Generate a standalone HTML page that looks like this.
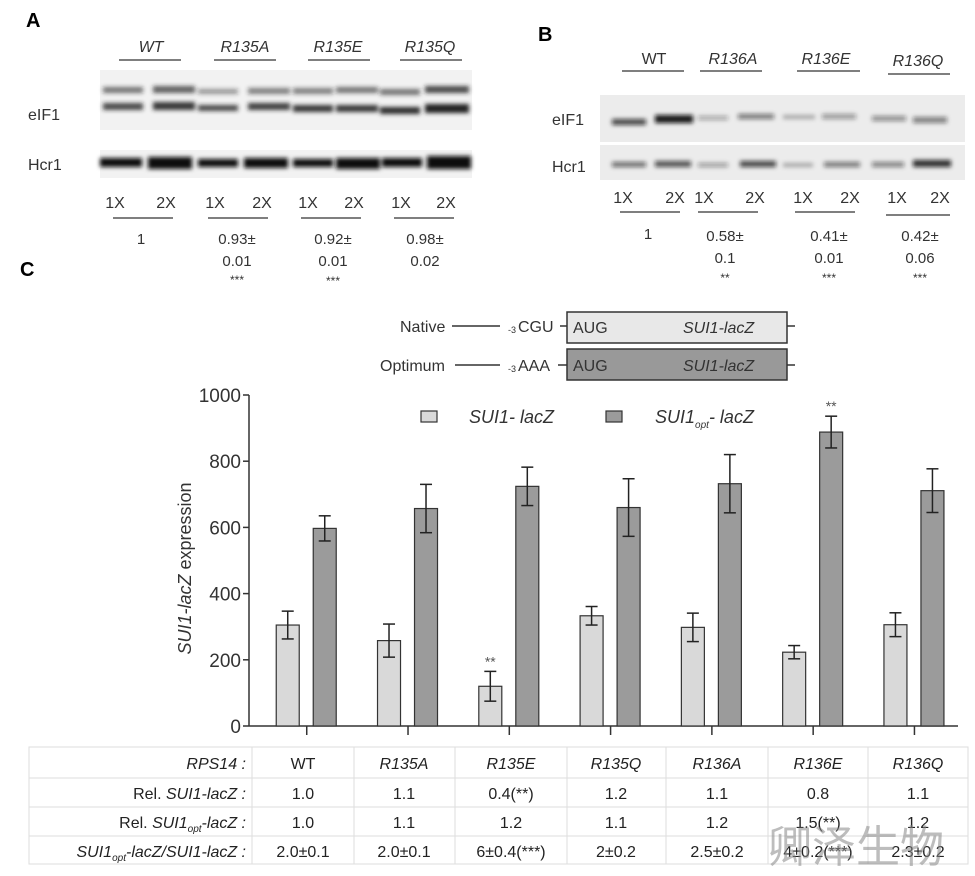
<!DOCTYPE html>
<html><head><meta charset="utf-8"><style>
body{margin:0;background:#fff}
svg{display:block;font-family:"Liberation Sans",Arial,sans-serif}
</style></head><body>
<svg id="fig" width="975" height="876" viewBox="0 0 975 876">
<defs><filter id="bl" x="-10%" y="-100%" width="120%" height="300%"><feGaussianBlur stdDeviation="2.2"/></filter></defs>
<g>
<text x="26" y="27" font-size="20" font-weight="bold">A</text>
<g font-size="16" font-style="italic" fill="#333" text-anchor="middle">
<text x="151" y="52">WT</text>
<text x="245" y="52">R135A</text>
<text x="338" y="52">R135E</text>
<text x="430" y="52">R135Q</text>
</g>
<g stroke="#555" stroke-width="1.5">
<line x1="119" y1="60" x2="181" y2="60"/><line x1="214" y1="60" x2="276" y2="60"/><line x1="308" y1="60" x2="370" y2="60"/><line x1="400" y1="60" x2="462" y2="60"/>
</g>
<rect x="100" y="70" width="372" height="60" fill="#f2f2f2"/>
<g filter="url(#bl)" fill="#222">
<rect x="103" y="87" width="40" height="6" opacity="0.6"/><rect x="153" y="86" width="42" height="7" opacity="0.7"/>
<rect x="198" y="89" width="40" height="5" opacity="0.45"/><rect x="248" y="88" width="42" height="6" opacity="0.55"/>
<rect x="293" y="88" width="40" height="6" opacity="0.55"/><rect x="336" y="87" width="42" height="6" opacity="0.6"/>
<rect x="380" y="89" width="40" height="6" opacity="0.6"/><rect x="425" y="86" width="44" height="7" opacity="0.8"/>
<rect x="103" y="103" width="40" height="7" opacity="0.8"/><rect x="153" y="102" width="42" height="8" opacity="0.9"/>
<rect x="198" y="105" width="40" height="6" opacity="0.8"/><rect x="248" y="103" width="42" height="7" opacity="0.85"/>
<rect x="293" y="105" width="40" height="7" opacity="0.9"/><rect x="336" y="105" width="42" height="7" opacity="0.9"/>
<rect x="380" y="107" width="40" height="7" opacity="0.95"/><rect x="425" y="104" width="44" height="9" opacity="1"/>
</g>
<rect x="100" y="150" width="372" height="28" fill="#f2f2f2"/>
<g filter="url(#bl)" fill="#111">
<rect x="100" y="158" width="42" height="9"/><rect x="148" y="157" width="44" height="12"/>
<rect x="198" y="159" width="40" height="8"/><rect x="244" y="158" width="44" height="10"/>
<rect x="293" y="159" width="40" height="8"/><rect x="336" y="158" width="44" height="11"/>
<rect x="382" y="158" width="40" height="9"/><rect x="427" y="156" width="44" height="13"/>
</g>
<g font-size="16" fill="#333">
<text x="28" y="120">eIF1</text>
<text x="28" y="170">Hcr1</text>
</g>
<g font-size="16" fill="#333" text-anchor="middle">
<text x="115" y="208">1X</text><text x="166" y="208">2X</text>
<text x="215" y="208">1X</text><text x="262" y="208">2X</text>
<text x="308" y="208">1X</text><text x="354" y="208">2X</text>
<text x="401" y="208">1X</text><text x="446" y="208">2X</text>
</g>
<g stroke="#555" stroke-width="1.5">
<line x1="113" y1="218" x2="173" y2="218"/><line x1="208" y1="218" x2="268" y2="218"/><line x1="301" y1="218" x2="361" y2="218"/><line x1="394" y1="218" x2="454" y2="218"/>
</g>
<g font-size="15" fill="#333" text-anchor="middle">
<text x="141" y="244">1</text>
<text x="237" y="244">0.93±</text><text x="237" y="266">0.01</text><text x="237" y="284" font-size="12">***</text>
<text x="333" y="244">0.92±</text><text x="333" y="266">0.01</text><text x="333" y="285" font-size="12">***</text>
<text x="425" y="244">0.98±</text><text x="425" y="266">0.02</text>
</g>
</g>
<g>
<text x="538" y="41" font-size="20" font-weight="bold">B</text>
<g font-size="16" fill="#333" text-anchor="middle">
<text x="654" y="64">WT</text>
<g font-style="italic">
<text x="733" y="64">R136A</text><text x="826" y="64">R136E</text><text x="918" y="66">R136Q</text></g>
</g>
<g stroke="#555" stroke-width="1.5">
<line x1="622" y1="71" x2="684" y2="71"/><line x1="700" y1="71" x2="762" y2="71"/><line x1="797" y1="71" x2="860" y2="71"/><line x1="888" y1="74" x2="950" y2="74"/>
</g>
<rect x="600" y="95" width="365" height="47" fill="#ececec"/>
<rect x="600" y="145" width="365" height="35" fill="#ececec"/>
<g filter="url(#bl)" fill="#111">
<rect x="612" y="119" width="34" height="6" opacity="0.75"/><rect x="655" y="115" width="38" height="8" opacity="0.95"/>
<rect x="698" y="116" width="30" height="4" opacity="0.35"/><rect x="738" y="114" width="36" height="5" opacity="0.55"/>
<rect x="783" y="115" width="32" height="4" opacity="0.3"/><rect x="822" y="114" width="34" height="5" opacity="0.4"/>
<rect x="872" y="116" width="34" height="5" opacity="0.45"/><rect x="913" y="117" width="34" height="6" opacity="0.5"/>
<rect x="612" y="162" width="34" height="5" opacity="0.6"/><rect x="655" y="161" width="36" height="6" opacity="0.7"/>
<rect x="698" y="163" width="30" height="4" opacity="0.4"/><rect x="740" y="161" width="36" height="6" opacity="0.75"/>
<rect x="783" y="163" width="30" height="4" opacity="0.3"/><rect x="824" y="162" width="36" height="5" opacity="0.55"/>
<rect x="872" y="162" width="32" height="5" opacity="0.5"/><rect x="913" y="160" width="38" height="7" opacity="0.85"/>
</g>
<g font-size="16" fill="#333">
<text x="552" y="125">eIF1</text>
<text x="552" y="172">Hcr1</text>
</g>
<g font-size="16" fill="#333" text-anchor="middle">
<text x="623" y="203">1X</text><text x="675" y="203">2X</text>
<text x="704" y="203">1X</text><text x="755" y="203">2X</text>
<text x="803" y="203">1X</text><text x="850" y="203">2X</text>
<text x="897" y="203">1X</text><text x="940" y="203">2X</text>
</g>
<g stroke="#555" stroke-width="1.5">
<line x1="620" y1="212" x2="680" y2="212"/><line x1="698" y1="212" x2="758" y2="212"/><line x1="795" y1="212" x2="855" y2="212"/><line x1="886" y1="215" x2="950" y2="215"/>
</g>
<g font-size="15" fill="#333" text-anchor="middle">
<text x="648" y="239">1</text>
<text x="725" y="241">0.58±</text><text x="725" y="263">0.1</text><text x="725" y="282" font-size="12">**</text>
<text x="829" y="241">0.41±</text><text x="829" y="263">0.01</text><text x="829" y="282" font-size="12">***</text>
<text x="920" y="241">0.42±</text><text x="920" y="263">0.06</text><text x="920" y="282" font-size="12">***</text>
</g>
</g>
<text x="20" y="276" font-size="20" font-weight="bold">C</text>
<g font-size="16" fill="#333">
<text x="400" y="332">Native</text>
<line x1="452" y1="326" x2="500" y2="326" stroke="#333" stroke-width="1.5"/>
<text x="508" y="333" font-size="9">-3</text><text x="518" y="332">CGU</text>
<line x1="560" y1="326" x2="567" y2="326" stroke="#333" stroke-width="1.5"/>
<rect x="567" y="312" width="220" height="31" fill="#e8e8e8" stroke="#333" stroke-width="1.5"/>
<text x="573" y="333">AUG</text><text x="683" y="333" font-style="italic">SUI1-lacZ</text>
<line x1="787" y1="326" x2="795" y2="326" stroke="#333" stroke-width="1.5"/>
<text x="380" y="371">Optimum</text>
<line x1="455" y1="365" x2="500" y2="365" stroke="#333" stroke-width="1.5"/>
<text x="508" y="372" font-size="9">-3</text><text x="518" y="371">AAA</text>
<line x1="558" y1="365" x2="567" y2="365" stroke="#333" stroke-width="1.5"/>
<rect x="567" y="349" width="220" height="31" fill="#999" stroke="#333" stroke-width="1.5"/>
<text x="573" y="371">AUG</text><text x="683" y="371" font-style="italic">SUI1-lacZ</text>
<line x1="787" y1="365" x2="795" y2="365" stroke="#333" stroke-width="1.5"/>
</g>
<g id="chart"></g>
<g font-family="Liberation Sans Narrow, Liberation Sans, sans-serif" font-size="16" fill="#222">
<rect x="29" y="747" width="939" height="117" fill="none" stroke="#ddd"/>
<g stroke="#ddd"><line x1="29" y1="778" x2="968" y2="778"/><line x1="29" y1="807" x2="968" y2="807"/><line x1="29" y1="836" x2="968" y2="836"/>
<line x1="252" y1="747" x2="252" y2="864"/><line x1="354" y1="747" x2="354" y2="864"/><line x1="455" y1="747" x2="455" y2="864"/><line x1="567" y1="747" x2="567" y2="864"/><line x1="666" y1="747" x2="666" y2="864"/><line x1="768" y1="747" x2="768" y2="864"/><line x1="868" y1="747" x2="868" y2="864"/></g>
<g text-anchor="end">
<text x="246" y="769" font-style="italic">RPS14 :</text>
<text x="246" y="799">Rel. <tspan font-style="italic">SUI1-lacZ :</tspan></text>
<text x="246" y="828">Rel. <tspan font-style="italic">SUI1<tspan font-size="10" dy="4">opt</tspan><tspan dy="-4">-lacZ :</tspan></tspan></text>
<text x="246" y="857" font-style="italic">SUI1<tspan font-size="10" dy="4">opt</tspan><tspan dy="-4">-lacZ/SUI1-lacZ :</tspan></text>
</g>
<g text-anchor="middle">
<text x="303" y="769">WT</text><text x="404" y="769" font-style="italic">R135A</text><text x="511" y="769" font-style="italic">R135E</text><text x="616" y="769" font-style="italic">R135Q</text><text x="717" y="769" font-style="italic">R136A</text><text x="818" y="769" font-style="italic">R136E</text><text x="918" y="769" font-style="italic">R136Q</text>
<text x="303" y="799">1.0</text><text x="404" y="799">1.1</text><text x="511" y="799">0.4(**)</text><text x="616" y="799">1.2</text><text x="717" y="799">1.1</text><text x="818" y="799">0.8</text><text x="918" y="799">1.1</text>
<text x="303" y="828">1.0</text><text x="404" y="828">1.1</text><text x="511" y="828">1.2</text><text x="616" y="828">1.1</text><text x="717" y="828">1.2</text><text x="818" y="828">1.5(**)</text><text x="918" y="828">1.2</text>
<text x="303" y="857">2.0±0.1</text><text x="404" y="857">2.0±0.1</text><text x="511" y="857">6±0.4(***)</text><text x="616" y="857">2±0.2</text><text x="717" y="857">2.5±0.2</text><text x="818" y="857">4±0.2(***)</text><text x="918" y="857">2.3±0.2</text>
</g>
<text x="768" y="862" font-family="Noto Sans CJK SC, sans-serif" font-size="44" fill="#888" opacity="0.55">卿泽生物</text>
</g>
</svg>
<script>
const categories=["WT","R135A","R135E","R135Q","R136A","R136E","R136Q"];
const lightValues=[305,258,120,333,298,223,306];
const lightErrors=[42,50,45,28,43,20,36];
const darkValues=[597,657,724,660,732,888,711];
const darkErrors=[38,73,58,87,88,48,66];
const yTicks=[0,200,400,600,800,1000];
const lightSig=["","","**","","","",""];
const darkSig=["","","","","","**",""];

const NS="http://www.w3.org/2000/svg";
const g=document.getElementById('chart');
const x0=249,x1=958,yTop=395,yBot=726,maxV=1000;
const y=v=>yBot-(v/maxV)*(yBot-yTop);
const step=(x1-x0)/categories.length;
const xc=i=>x0+step*(i+0.57);
function mk(tag,attrs,parent){const e=document.createElementNS(NS,tag);for(const k in attrs)e.setAttribute(k,attrs[k]);(parent||g).appendChild(e);return e;}
const ya=mk('line',{x1:x0,y1:yTop,x2:x0,y2:yBot,stroke:'#333','stroke-width':1.5});


const xa=mk('line',{x1:x0,y1:yBot,x2:x1,y2:yBot,stroke:'#333','stroke-width':1.5});


yTicks.forEach(t=>{
  mk('line',{x1:x0-6,y1:y(t),x2:x0,y2:y(t),stroke:'#333','stroke-width':1.5});
  const tx=mk('text',{x:x0-8,y:y(t)+7,'text-anchor':'end','font-size':19,fill:'#333'});
  tx.textContent=t;
  
  
});
const yt=mk('text',{transform:`translate(191,${(yTop+yBot)/2+8}) rotate(-90)`,'text-anchor':'middle','font-size':18,fill:'#333'});
yt.innerHTML='<tspan font-style="italic">SUI1-lacZ</tspan> expression';


function bar(cx,v,err,fill,name,sig){
  const w=23;
  const r=mk('rect',{x:cx-w/2,y:y(v),width:w,height:yBot-y(v),fill:fill,stroke:'#333','stroke-width':1.2});
  
  
  const eg=mk('g',{stroke:'#222','stroke-width':1.5});
  
  
  mk('line',{x1:cx,y1:y(v+err),x2:cx,y2:y(v-err)},eg);
  mk('line',{x1:cx-6,y1:y(v+err),x2:cx+6,y2:y(v+err)},eg);
  mk('line',{x1:cx-6,y1:y(v-err),x2:cx+6,y2:y(v-err)},eg);
  if(sig){const s=mk('text',{x:cx,y:y(v+err)-5,'text-anchor':'middle','font-size':14,fill:'#555'});s.textContent=sig;
    
    }
}
categories.forEach((c,i)=>{
  const cx=xc(i);
  mk('line',{x1:cx,y1:yBot,x2:cx,y2:yBot+9,stroke:'#333','stroke-width':1.5});
  bar(cx-19,lightValues[i],lightErrors[i],'#d9d9d9','bar-light-'+c.toLowerCase(),lightSig[i]);
  bar(cx+18,darkValues[i],darkErrors[i],'#9b9b9b','bar-dark-'+c.toLowerCase(),darkSig[i]);
});
const lg=mk('g',{});


mk('rect',{x:421,y:411,width:16,height:11,fill:'#d9d9d9',stroke:'#333','stroke-width':1.2},lg);
const l1=mk('text',{x:469,y:423,'font-size':18,'font-style':'italic',fill:'#333'},lg);l1.textContent='SUI1- lacZ';
mk('rect',{x:606,y:411,width:16,height:11,fill:'#9b9b9b',stroke:'#333','stroke-width':1.2},lg);
const l2=mk('text',{x:655,y:423,'font-size':18,'font-style':'italic',fill:'#333'},lg);
l2.innerHTML='SUI1<tspan font-size="10" dy="5">opt</tspan><tspan dy="-5">- lacZ</tspan>';
</script>
</body></html>
